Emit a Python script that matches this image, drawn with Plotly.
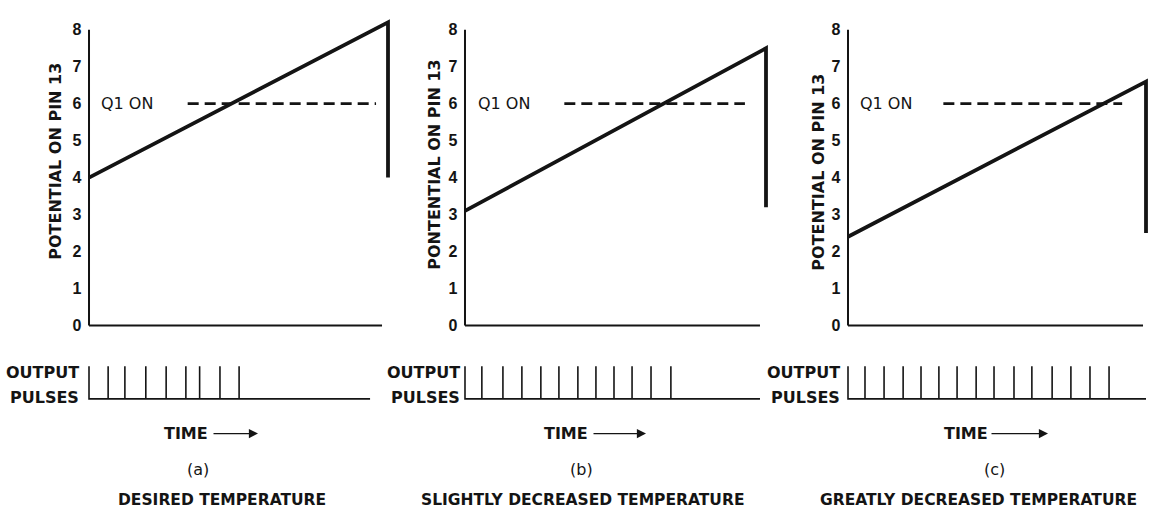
import plotly.graph_objects as go

# ---- values -------------------------------------------------------------
panel_letters = ["(a)", "(b)", "(c)"]
panel_titles = ["DESIRED TEMPERATURE",
                "SLIGHTLY DECREASED TEMPERATURE",
                "GREATLY DECREASED TEMPERATURE"]
y_titles = ["POTENTIAL ON PIN 13", "PONTENTIAL ON PIN 13", "POTENTIAL ON PIN 13"]
y_ticks = [0, 1, 2, 3, 4, 5, 6, 7, 8]

# ramp on pin 13 (volts): start of sweep, peak at end of sweep, value after reset
ramp_start = [4.0, 3.1, 2.4]
ramp_peak = [8.2, 7.5, 6.6]
ramp_reset = [4.0, 3.2, 2.5]
sweep_end = 100          # time units, end of the sweep
q1_on_level = 6
q1_on_span = [(33, 96), (33, 93), (32, 92)]     # time extent of the Q1 ON line
time_axis_end = [98, 98, 99]

# output pulse times (same time units)
pulses_a = [6.4, 12.0, 19.0, 25.8, 32.4, 37.0, 43.8, 50.2]
pulses_b = [5.6, 12.6, 18.9, 25.2, 31.2, 37.5, 43.5, 49.5, 55.5, 61.8, 68.4]
pulses_c = [5.7, 12.1, 18.5, 24.5, 30.5, 36.6, 43.0, 49.0, 55.7, 61.7, 68.5,
            74.8, 81.2, 87.6]
pulse_times = [pulses_a, pulses_b, pulses_c]
pulse_base_end = [94, 98, 100]

# ---- layout helpers -----------------------------------------------------
W, H = 1169, 516
INK = "#141414"
BOLD = "DejaVu Sans"
PLAIN = "DejaVu Sans"


def fx(px):
    return px / W


def fy(py):
    return 1 - py / H


# pixel x of t=0 and t=100 for each panel
panel_px = [(89, 388), (465, 766), (848, 1146)]
X_RANGE = [-1.5, 103.5]

# ramp plot: value 0 at y=328px, value 8 at y=30px
R_RANGE = [-0.12, 8.8]
r_scale = (328 - 30) / 8.0
ramp_dom = [fy(328 - R_RANGE[0] * r_scale), fy(328 - R_RANGE[1] * r_scale)]

# pulse strip: baseline at y=402px, pulse top at y=369px
P_RANGE = [-0.2, 1.2]
p_scale = 402 - 369
pulse_dom = [fy(402 - P_RANGE[0] * p_scale), fy(402 - P_RANGE[1] * p_scale)]

fig = go.Figure()
layout = dict(
    width=W, height=H,
    margin=dict(l=0, r=0, t=0, b=0),
    paper_bgcolor="white", plot_bgcolor="white",
    showlegend=False,
)
annotations = []
shapes = []

for i in range(3):
    x0, x100 = panel_px[i]
    s = (x100 - x0) / 100.0
    dom = [fx(x0 + X_RANGE[0] * s), fx(x0 + X_RANGE[1] * s)]

    rx = "x" if i == 0 else f"x{2 * i + 1}"
    ry = "y" if i == 0 else f"y{2 * i + 1}"
    px_ = f"x{2 * i + 2}"
    py_ = f"y{2 * i + 2}"
    rkx = "xaxis" if i == 0 else f"xaxis{2 * i + 1}"
    rky = "yaxis" if i == 0 else f"yaxis{2 * i + 1}"
    pkx = f"xaxis{2 * i + 2}"
    pky = f"yaxis{2 * i + 2}"

    hidden = dict(showgrid=False, zeroline=False, showline=False,
                  showticklabels=False, ticks="", fixedrange=True)
    layout[rkx] = dict(domain=dom, range=X_RANGE, anchor=ry, **hidden)
    layout[pkx] = dict(domain=dom, range=X_RANGE, anchor=py_, **hidden)
    layout[pky] = dict(domain=pulse_dom, range=P_RANGE, anchor=px_, **hidden)
    layout[rky] = dict(
        domain=ramp_dom, range=R_RANGE, anchor=rx,
        showgrid=False, zeroline=False, showline=False, ticks="",
        tickvals=y_ticks, ticktext=[str(v) for v in y_ticks],
        tickfont=dict(family="Liberation Sans", size=16, color=INK, weight="bold"),
        ticklabelstandoff=2, fixedrange=True,
    )

    # axes of the ramp plot
    shapes.append(dict(type="line", xref=rx, yref=ry, x0=0, x1=0,
                       y0=0, y1=y_ticks[-1], line=dict(color=INK, width=2)))
    shapes.append(dict(type="line", xref=rx, yref=ry, x0=0,
                       x1=time_axis_end[i], y0=0, y1=0,
                       line=dict(color=INK, width=2)))

    # Q1 ON threshold
    fig.add_trace(go.Scatter(
        x=list(q1_on_span[i]), y=[q1_on_level, q1_on_level],
        xaxis=rx, yaxis=ry, mode="lines",
        line=dict(color=INK, width=2.8, dash="11px,6px"), hoverinfo="skip"))
    annotations.append(dict(
        x=3.5, y=q1_on_level, xref=rx, yref=ry, text="Q1 ON",
        showarrow=False, xanchor="left", yanchor="middle",
        font=dict(family=PLAIN, size=16, color=INK)))

    # sawtooth ramp with reset
    fig.add_trace(go.Scatter(
        x=[0, sweep_end, sweep_end],
        y=[ramp_start[i], ramp_peak[i], ramp_reset[i]],
        xaxis=rx, yaxis=ry, mode="lines",
        line=dict(color=INK, width=3.8), hoverinfo="skip"))

    # output pulse train
    xs, ys = [0, 0], [1, 0]
    for t in pulse_times[i]:
        xs += [t, t, t]
        ys += [0, 1, 0]
    xs.append(pulse_base_end[i])
    ys.append(0)
    fig.add_trace(go.Scatter(
        x=xs, y=ys, xaxis=px_, yaxis=py_, mode="lines",
        line=dict(color=INK, width=1.6), hoverinfo="skip"))

# ---- text ---------------------------------------------------------------
ytitle_pos = [(56, 163), (435, 166), (819, 174)]
for i in range(3):
    annotations.append(dict(
        x=fx(ytitle_pos[i][0]), y=fy(ytitle_pos[i][1]), xref="paper", yref="paper",
        text=y_titles[i], textangle=-90, showarrow=False,
        xanchor="center", yanchor="middle",
        font=dict(family=BOLD, size=16, color=INK, weight="bold")))

out_right = [81, 462, 842]
for i in range(3):
    for label, yc in (("OUTPUT", 375), ("PULSES", 401)):
        annotations.append(dict(
            x=fx(out_right[i]), y=fy(yc), xref="paper", yref="paper",
            text=label, showarrow=False, xanchor="right", yanchor="middle",
            font=dict(family=BOLD, size=16, color=INK, weight="bold")))

time_pos = [(162, 212, 258), (542, 592, 646), (942, 990, 1048)]
for i in range(3):
    tx, a0, a1 = time_pos[i]
    annotations.append(dict(
        x=fx(tx), y=fy(437), xref="paper", yref="paper", text="TIME",
        showarrow=False, xanchor="left", yanchor="middle",
        font=dict(family=BOLD, size=16, color=INK, weight="bold")))
    annotations.append(dict(
        x=fx(a1), y=fy(437), xref="paper", yref="paper", text="",
        showarrow=True, ax=-(a1 - a0), ay=0, axref="pixel", ayref="pixel",
        arrowhead=2, arrowsize=1.3, arrowwidth=1.4, arrowcolor=INK))

letter_x = [198, 581, 994]
title_x = [222, 582, 978]
for i in range(3):
    annotations.append(dict(
        x=fx(letter_x[i]), y=fy(473), xref="paper", yref="paper",
        text=panel_letters[i], showarrow=False, xanchor="center", yanchor="middle",
        font=dict(family=PLAIN, size=16, color=INK)))
    annotations.append(dict(
        x=fx(title_x[i]), y=fy(504), xref="paper", yref="paper",
        text=panel_titles[i], showarrow=False, xanchor="center", yanchor="middle",
        font=dict(family=BOLD, size=15.5, color=INK, weight="bold")))

layout["annotations"] = annotations
layout["shapes"] = shapes
fig.update_layout(**layout)
fig.write_html("out.html")
